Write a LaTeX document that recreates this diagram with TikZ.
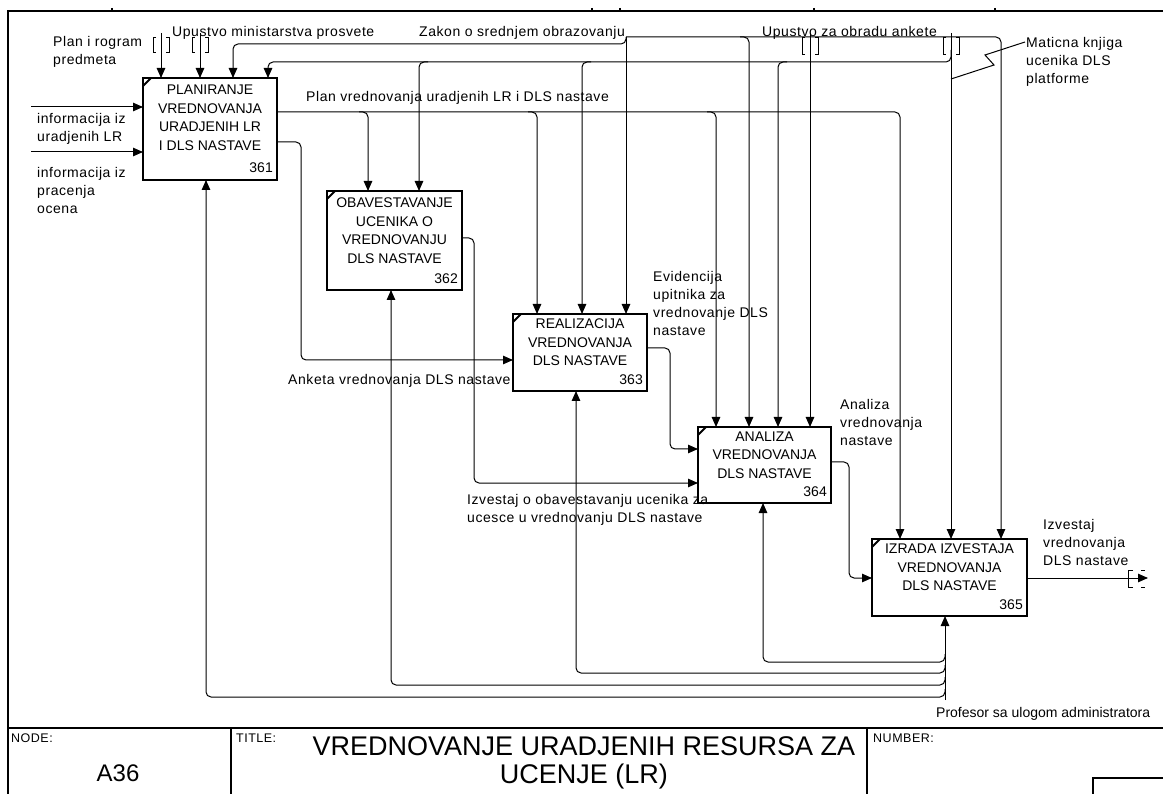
\documentclass[tikz,border=0pt]{standalone}
\usepackage{fontspec}
\setmainfont{Liberation Sans}
\newfontfamily\lblface{Liberation Sans}[LetterSpace=4]
\usetikzlibrary{arrows.meta}
% pair of tunnel brackets "[ ]" around a vertical arrow at x=#1, from y=#2 to y=#3
\newcommand\tunpair[3]{%
  \draw[tunnel] (#1-5,#2) -- (#1-8,#2) -- (#1-8,#3) -- (#1-5,#3);
  \draw[tunnel] (#1+5,#2) -- (#1+8,#2) -- (#1+8,#3) -- (#1+5,#3);}
\begin{document}
\begin{tikzpicture}[x=1pt,y=-1pt,
  conn/.style={line width=1pt},
  arr/.style={conn,-{Triangle[length=10pt,width=8.5pt]}},
  rc/.style={rounded corners=5pt},
  procbox/.style={draw,line width=2.4pt,inner sep=0pt,outer sep=0pt},
  boxtext/.style={font=\fontsize{14}{18.5}\selectfont,align=center,inner sep=0pt},
  boxnum/.style={font=\fontsize{14}{15}\selectfont,inner sep=0pt,anchor=base east},
  lbl/.style={font=\lblface\fontsize{14}{18}\selectfont,align=left,inner sep=0pt,anchor=north west},
  smalllbl/.style={font=\lblface\fontsize{12.5}{13}\selectfont,inner sep=0pt,anchor=north west},
  framerule/.style={line width=1.1pt},
  tunnel/.style={line width=1pt},
]
\useasboundingbox (0,0) rectangle (1163,794);

% ---------- sheet frame ----------
\draw[framerule] (8,794) -- (8,11) -- (1163,11);
\foreach \tx in {112,592,620,814,995} \draw[framerule] (\tx,8) -- (\tx,11);
\draw[framerule] (8,728) -- (1163,728);
\draw[framerule] (231,728) -- (231,794);
\draw[framerule] (867,728) -- (867,794);
\draw[framerule] (1093,794) -- (1093,778) -- (1163,778);

% ---------- activity boxes ----------
\node[procbox,minimum width=134pt,minimum height=102pt] (p1) at (210,129) {};
\node[procbox,minimum width=135pt,minimum height=99pt] (p2) at (394.5,240.5) {};
\node[procbox,minimum width=134pt,minimum height=77pt] (p3) at (580,352.5) {};
\node[procbox,minimum width=133pt,minimum height=76pt] (p4) at (764.5,465) {};
\node[procbox,minimum width=155pt,minimum height=77pt] (p5) at (949.5,577.5) {};

\foreach \b in {p1,p2,p3,p4,p5}
  \draw[line width=1.8pt] (\b.north west) ++(0,8) -- ++(8,-8);

\node[boxtext] (p1t) at ([yshift=11pt]p1.center) {PLANIRANJE\\VREDNOVANJA\\URADJENIH LR\\I DLS NASTAVE};
\node[boxtext] (p2t) at ([yshift=10pt]p2.center) {OBAVESTAVANJE\\UCENIKA O\\VREDNOVANJU\\DLS NASTAVE};
\node[boxtext] (p3t) at ([yshift=10pt]p3.center) {REALIZACIJA\\VREDNOVANJA\\DLS NASTAVE};
\node[boxtext] (p4t) at ([yshift=10pt]p4.center) {ANALIZA\\VREDNOVANJA\\DLS NASTAVE};
\node[boxtext] (p5t) at ([yshift=10pt]p5.center) {IZRADA IZVESTAJA\\VREDNOVANJA\\DLS NASTAVE};

\node[boxnum] (p1n) at ([xshift=-4pt,yshift=7pt]p1.south east) {361};
\node[boxnum] (p2n) at ([xshift=-4pt,yshift=6.5pt]p2.south east) {362};
\node[boxnum] (p3n) at ([xshift=-4pt,yshift=6.5pt]p3.south east) {363};
\node[boxnum] (p4n) at ([xshift=-4pt,yshift=6.5pt]p4.south east) {364};
\node[boxnum] (p5n) at ([xshift=-4pt,yshift=6.5pt]p5.south east) {365};

% ---------- inputs of 361 ----------
\coordinate (i1) at (31,107);
\coordinate (i2) at (31,152);
\draw[arr] (i1) -- (i1 -| p1.west);
\draw[arr] (i2) -- (i2 -| p1.west);
\node[lbl] (li1) at (37,113) {informacija iz\\uradjenih LR};
\node[lbl] (li2) at (37,167) {informacija iz\\pracenja\\ocena};

% ---------- controls ----------
% Plan i program predmeta
\coordinate (s1) at (161,33);
\draw[arr] (s1) -- (s1 |- p1.north);
\tunpair{161}{38}{53}
\node[lbl] (ls1) at (53,36) {Plan i rogram\\predmeta};

% Upustvo ministarstva prosvete
\coordinate (s2) at (200,33);
\draw[arr] (s2) -- (s2 |- p1.north);
\tunpair{200}{38}{53}
\node[lbl] (ls2) at (172,26) {Upustvo ministarstva prosvete};

% Zakon o srednjem obrazovanju
\node[lbl] (ls3) at (419,26) {Zakon o srednjem obrazovanju};
\coordinate (s3) at (626,37);
\draw[arr] (s3) -- (s3 |- p3.north);
\draw[arr,rc] (s3) -- (626,44) -- (233,44) -- (233,44 |- p1.north);
\draw[arr,rc] (s3) -- (1001,37) -- (1001,37 |- p5.north);
\draw[arr,rc] (740,37) -- (749,37) -- (749,37 |- p4.north);

% Maticna knjiga ucenika DLS platforme
\coordinate (s4) at (951,33);
\draw[arr] (s4) -- (s4 |- p5.north);
\tunpair{951}{38}{55}
\draw[arr,rc] (951,50) -- (951,62) -- (268,62) -- (268,62 |- p1.north);
\draw[arr,rc] (428,62) -- (419,62) -- (419,62 |- p2.north);
\draw[arr,rc] (591,62) -- (582,62) -- (582,62 |- p3.north);
\draw[arr,rc] (787,62) -- (778,62) -- (778,62 |- p4.north);
\node[lbl] (ls4) at (1026,37) {Maticna knjiga\\ucenika DLS\\platforme};
\draw[conn] (1025,42) -- (985,55) -- (994,65) -- (951,79);

% Upustvo za obradu ankete
\coordinate (s5) at (810,33);
\draw[arr] (s5) -- (s5 |- p4.north);
\tunpair{810}{38}{55}
\node[lbl] (ls5) at (762,26) {Upustvo za obradu ankete};

% ---------- outputs ----------
% Plan vrednovanja
\draw[arr,rc] (p1.east |- 0,112) -- (900,112) -- (900,112 |- p5.north);
\draw[arr,rc] (359,112) -- (368,112) -- (368,112 |- p2.north);
\draw[arr,rc] (528,112) -- (537,112) -- (537,112 |- p3.north);
\draw[arr,rc] (707,112) -- (716,112) -- (716,112 |- p4.north);
\node[lbl] (lo1) at (306,91) {Plan vrednovanja uradjenih LR i DLS nastave};

% Anketa vrednovanja
\draw[arr,rc] (p1.east |- 0,142) -- (301,142) -- (301,360) -- (p3.west |- 0,360);
\node[lbl] (lo2) at (288,374) {Anketa vrednovanja DLS nastave};

% Izvestaj o obavestavanju
\draw[arr,rc] (p2.east |- 0,238) -- (474,238) -- (474,483) -- (p4.west |- 0,483);
\node[lbl] (lo3) at (467,494) {Izvestaj o obavestavanju ucenika za\\ucesce u vrednovanju DLS nastave};

% Evidencija upitnika
\draw[arr,rc] (p3.east |- 0,348) -- (670,348) -- (670,449) -- (p4.west |- 0,449);
\node[lbl] (lo4) at (653,271) {Evidencija\\upitnika za\\vrednovanje DLS\\nastave};

% Analiza vrednovanja
\draw[arr,rc] (p4.east |- 0,462) -- (849,462) -- (849,578) -- (p5.west |- 0,578);
\node[lbl] (lo5) at (840,399) {Analiza\\vrednovanja\\nastave};

% Izvestaj vrednovanja (boundary output)
\coordinate (o6) at (1148,578);
\draw[arr] (p5.east |- o6) -- (o6);
\draw[tunnel] (1133,570) -- (1128,570) -- (1128,587) -- (1133,587);
\draw[tunnel] (1141,570) -- (1145,570);
\draw[tunnel] (1141,587) -- (1145,587);
\node[lbl] (lo6) at (1043,519) {Izvestaj\\vrednovanja\\DLS nastave};

% ---------- mechanism ----------
\coordinate (m0) at (945,700);
\draw[arr] (m0) -- (m0 |- p5.south);
\draw[arr,rc] (945,654) -- (945,662) -- (763,662) -- (763,662 |- p4.south);
\draw[arr,rc] (945,665) -- (945,673) -- (576,673) -- (576,673 |- p3.south);
\draw[arr,rc] (945,677) -- (945,685) -- (391,685) -- (391,685 |- p2.south);
\draw[arr,rc] (945,689) -- (945,697) -- (206,697) -- (206,697 |- p1.south);
\node[lbl,font=\fontsize{14}{18}\selectfont] (lm) at (936,707) {Profesor sa ulogom administratora};

% ---------- title block ----------
\node[smalllbl] (tnode) at (11,734) {NODE:};
\node[font=\fontsize{24}{28}\selectfont,inner sep=0pt] (tnum) at (118,773) {A36};
\node[smalllbl] (ttl) at (236,734) {TITLE:};
\node[font=\fontsize{27}{28}\selectfont,align=center,inner sep=0pt] (ttitle) at (584,763)
  {VREDNOVANJE URADJENIH RESURSA ZA\\UCENJE (LR)};
\node[smalllbl] (tnumber) at (873,734) {NUMBER:};
\end{tikzpicture}
\end{document}
